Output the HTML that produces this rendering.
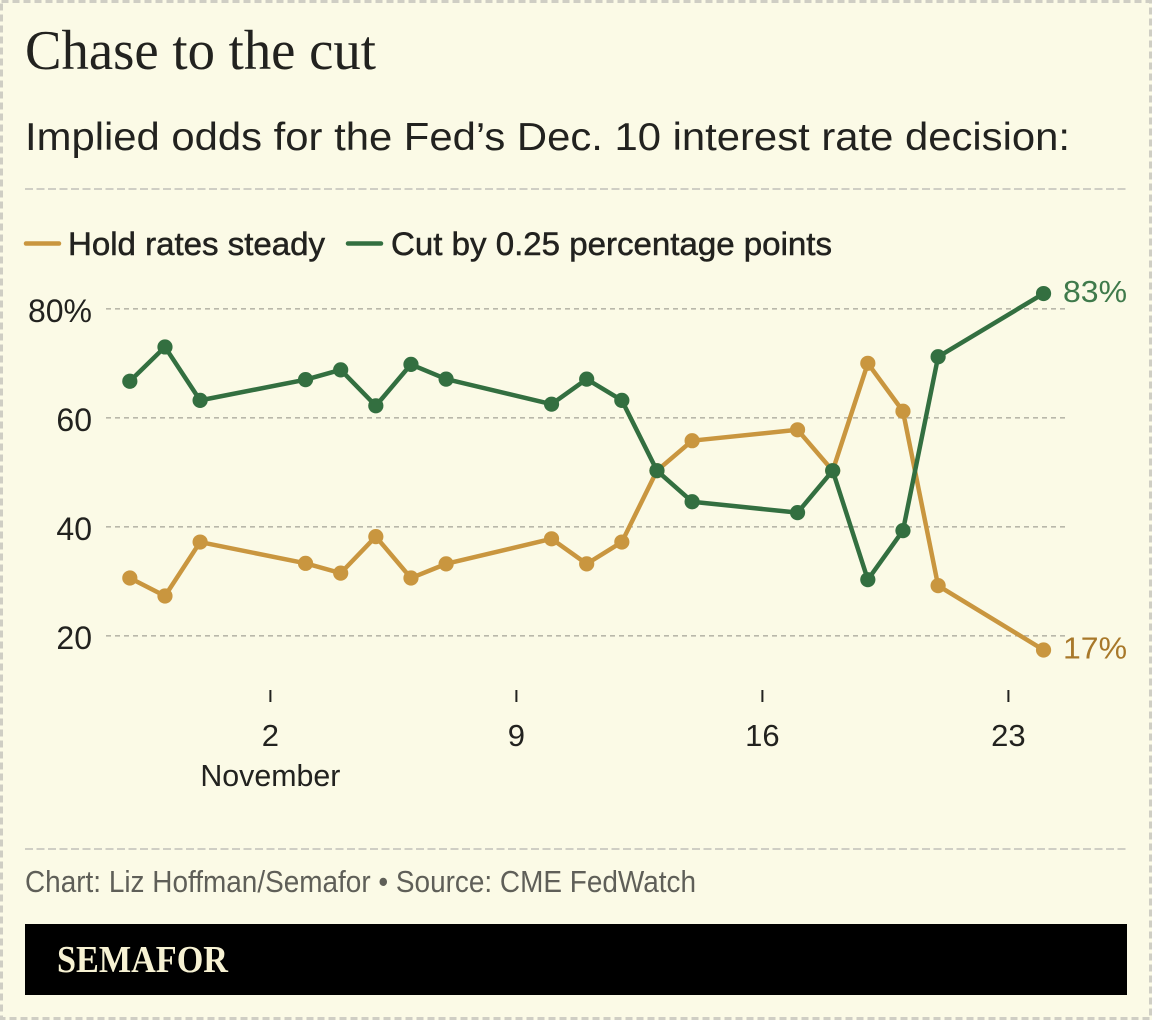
<!DOCTYPE html>
<html lang="en">
<head>
<meta charset="utf-8">
<title>Chase to the cut</title>
<style>
  html, body { margin: 0; padding: 0; background: #fbfae6; }
  svg { display: block; }
  text { font-family: "Liberation Sans", sans-serif; }
  .serif { font-family: "Liberation Serif", serif; }
</style>
</head>
<body>
<svg id="chart" xmlns="http://www.w3.org/2000/svg" width="1152" height="1020" viewBox="0 0 1152 1020">
  <rect x="0" y="0" width="1152" height="1020" fill="#fbfae6"/>
  <rect x="1.5" y="1.5" width="1149" height="1017" fill="none" stroke="#cfcec4" stroke-width="3" stroke-dasharray="7 4"/>

  <text class="serif" x="25" y="69" font-size="56" fill="#22221f" textLength="351" lengthAdjust="spacingAndGlyphs">Chase to the cut</text>
  <text x="25" y="150" font-size="39" fill="#22221f" textLength="1045" lengthAdjust="spacingAndGlyphs">Implied odds for the Fed’s Dec. 10 interest rate decision:</text>
  <line x1="25" y1="189" x2="1127" y2="189" stroke="#cfcec4" stroke-width="2" stroke-dasharray="8 3.5"/>

  <g>
    <line x1="26" y1="243.5" x2="59" y2="243.5" stroke="#c9963f" stroke-width="4.5" stroke-linecap="round"/>
    <text x="68" y="255" font-size="32" fill="#22221f" stroke="#22221f" stroke-width="0.5" textLength="257" lengthAdjust="spacingAndGlyphs">Hold rates steady</text>
    <line x1="348" y1="243.5" x2="381" y2="243.5" stroke="#336f40" stroke-width="4.5" stroke-linecap="round"/>
    <text x="391" y="255" font-size="32" fill="#22221f" stroke="#22221f" stroke-width="0.5" textLength="441" lengthAdjust="spacingAndGlyphs">Cut by 0.25 percentage points</text>
  </g>

  <g id="y-axis"></g>
  <g id="x-axis"></g>
  <g id="series"></g>

  <line x1="25" y1="849" x2="1127" y2="849" stroke="#cfcec4" stroke-width="2" stroke-dasharray="8 3.5"/>
  <text x="25" y="892" font-size="31" fill="#5f5f58" textLength="671" lengthAdjust="spacingAndGlyphs">Chart: Liz Hoffman/Semafor • Source: CME FedWatch</text>
  <rect x="25" y="924" width="1102" height="71" fill="#000000"/>
  <text class="serif" x="57" y="972" font-size="38" font-weight="700" fill="#f7f2d3" textLength="171" lengthAdjust="spacingAndGlyphs">SEMAFOR</text>
</svg>

<script>
// Day of the axis month (November); -2, -1, 0 are Oct 29, 30, 31.
const days = [-2, -1, 0, 3, 4, 5, 6, 7, 10, 11, 12, 13, 14, 17, 18, 19, 20, 21, 24];
const holdValues = [30.6, 27.3, 37.2, 33.3, 31.5, 38.2, 30.6, 33.2, 37.8, 33.2, 37.2, 50.3, 55.8, 57.8, 50.3, 70.0, 61.2, 29.2, 17.4];
const cutValues = [66.7, 73.0, 63.2, 67.0, 68.8, 62.2, 69.8, 67.1, 62.5, 67.1, 63.2, 50.3, 44.6, 42.6, 50.3, 30.3, 39.3, 71.2, 82.8];
const yTicks = [20, 40, 60, 80];
const yTickLabels = ['20', '40', '60', '80%'];
const xTicks = [2, 9, 16, 23];
const xTickLabels = ['2', '9', '16', '23'];
const xAxisMonth = 'November';
const holdEndLabel = '17%';
const cutEndLabel = '83%';

const GOLD = '#c9963f';
const GREEN = '#336f40';
const INK = '#22221f';
const NS = 'http://www.w3.org/2000/svg';

function xScale(day) { return 270.4 + (day - 2) * (1008.4 - 270.4) / 21; }
function yScale(value) { return 526.8 - (value - 40) * (526.8 - 308.8) / 40; }

function make(tag, attrs, parent) {
  const el = document.createElementNS(NS, tag);
  for (const key in attrs) el.setAttribute(key, attrs[key]);
  parent.appendChild(el);
  return el;
}

const yAxis = document.getElementById('y-axis');
yTicks.forEach(function (tick, i) {
  const grid = make('line', { x1: 106, x2: 1067, y1: yScale(tick), y2: yScale(tick), stroke: '#b9b8aa', 'stroke-width': 1.6, 'stroke-dasharray': '5 4' }, yAxis);
  
  
  const label = make('text', { x: 92, y: yScale(tick) + 13, 'text-anchor': 'end', 'font-size': 32, fill: INK }, yAxis);
  label.textContent = yTickLabels[i];
  
  
});

const xAxis = document.getElementById('x-axis');
xTicks.forEach(function (tick, i) {
  const mark = make('line', { x1: xScale(tick), x2: xScale(tick), y1: 690, y2: 702, stroke: INK, 'stroke-width': 2 }, xAxis);
  
  
  const label = make('text', { x: xScale(tick), y: 746, 'text-anchor': 'middle', 'font-size': 31, fill: INK }, xAxis);
  label.textContent = xTickLabels[i];
  
  
});
const monthLabel = make('text', { x: xScale(xTicks[0]), y: 786, 'text-anchor': 'middle', 'font-size': 31, fill: INK, textLength: 140, lengthAdjust: 'spacingAndGlyphs' }, xAxis);
monthLabel.textContent = xAxisMonth;



const seriesGroup = document.getElementById('series');
function drawSeries(values, color, name) {
  const pts = values.map(function (v, i) { return xScale(days[i]) + ',' + yScale(v); }).join(' ');
  const line = make('polyline', { points: pts, fill: 'none', stroke: color, 'stroke-width': 4.5, 'stroke-linejoin': 'round', 'stroke-linecap': 'round' }, seriesGroup);
  
  
  values.forEach(function (v, i) {
    const dot = make('circle', { cx: xScale(days[i]), cy: yScale(v), r: 7.6, fill: color }, seriesGroup);
    
    
  });
}
drawSeries(holdValues, GOLD, 'hold');
drawSeries(cutValues, GREEN, 'cut');

const lastIndex = days.length - 1;
const cutEnd = make('text', { x: 1063, y: yScale(cutValues[lastIndex]) + 8.5, 'font-size': 31, fill: '#3f7a4b', textLength: 64, lengthAdjust: 'spacingAndGlyphs' }, seriesGroup);
cutEnd.textContent = cutEndLabel;


const holdEnd = make('text', { x: 1063, y: yScale(holdValues[lastIndex]) + 8.5, 'font-size': 31, fill: '#a8782a', textLength: 64, lengthAdjust: 'spacingAndGlyphs' }, seriesGroup);
holdEnd.textContent = holdEndLabel;


</script>
</body>
</html>
